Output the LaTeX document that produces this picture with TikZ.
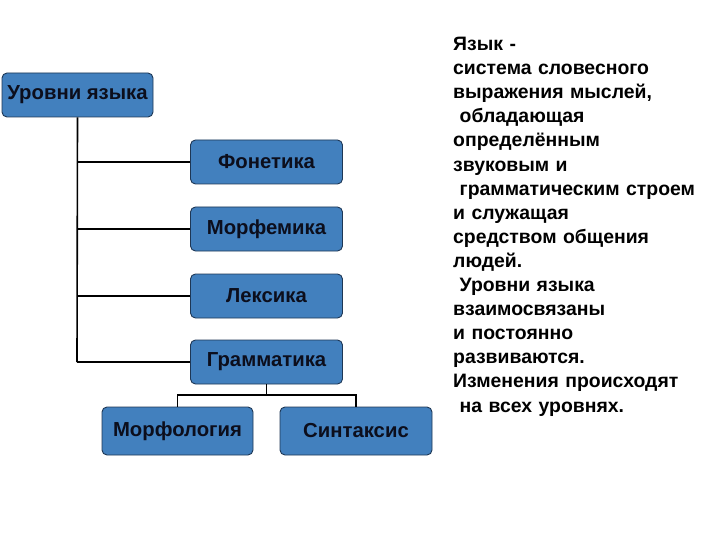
\documentclass[tikz,border=0pt]{standalone}
\usepackage{fontspec}
\setmainfont{Liberation Sans}
\begin{document}
\begin{tikzpicture}[x=1pt,y=-1pt,
  box/.style={draw=boxedge, fill=boxfill, rounded corners=5pt, line width=0.9pt,
    font=\bfseries\fontsize{20.3}{22}\selectfont, text=boxtext, inner sep=0pt},
  conn/.style={line width=1.6pt, draw=black}]
\definecolor{boxfill}{RGB}{66,128,190}
\definecolor{boxedge}{RGB}{30,55,85}
\definecolor{boxtext}{RGB}{12,14,28}
\useasboundingbox (0,0) rectangle (720,540);
\node[box, minimum width=151pt, minimum height=44pt] (lvl) at (77.5,95) {Уровни языка};
\node[box, minimum width=152pt, minimum height=44pt] (fon) at (266.5,162) {Фонетика};
\node[box, minimum width=152pt, minimum height=44pt] (mrf) at (266.5,229) {Морфемика};
\node[box, minimum width=152pt, minimum height=44pt] (lex) at (266.5,296) {Лексика};
\node[box, minimum width=152pt, minimum height=44pt] (gr) at (266.5,362) {Грамматика};
\node[box, minimum width=151pt, minimum height=48pt] (mlg) at (177.5,431) {Морфология};
\node[box, minimum width=152pt, minimum height=48pt] (snt) at (356,431) {Синтаксис};
\coordinate (tr) at (77,117);
\coordinate (tb) at (77,362);
\draw[conn] (lvl.south) -- (tb);
\draw[conn] (fon.west) -- (fon.west -| tr);
\draw[conn] (mrf.west) -- (mrf.west -| tr);
\draw[conn] (lex.west) -- (lex.west -| tr);
\draw[conn] (gr.west) -- (tb);
\coordinate (gj) at (266.5,395);
\draw[conn] (gr.south) -- (gj);
\draw[conn] (mlg.north) -- (mlg.north |- gj) -- (snt.north |- gj) -- (snt.north);
\node[anchor=north west, align=left, text width=265pt, inner sep=0pt, text=black,
  font=\bfseries\fontsize{19.4}{24.1}\selectfont] (txt) at (453,37) {%
Язык -\\
система словесного\\
выражения мыслей,\\
\ обладающая\\
определённым\\
звуковым и\\
\ грамматическим строем\\
и служащая\\
средством общения\\
людей.\\
\ Уровни языка\\
взаимосвязаны\\
и постоянно\\
развиваются.\\
Изменения происходят\\
\ на всех уровнях.};
\end{tikzpicture}
\end{document}
